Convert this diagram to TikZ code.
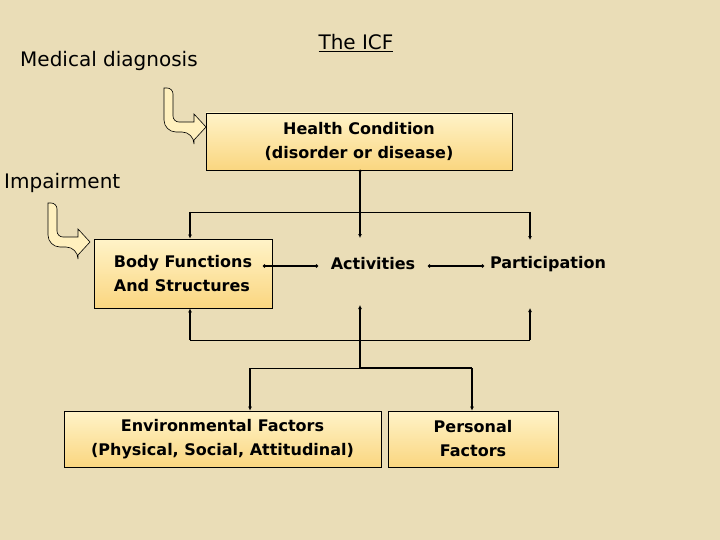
\documentclass[tikz,border=0pt]{standalone}
\usepackage{fontspec}
\setmainfont{DejaVu Sans}
\usetikzlibrary{arrows.meta}
\definecolor{parch}{RGB}{234,221,183}
\definecolor{boxtop}{RGB}{255,243,200}
\definecolor{boxbot}{RGB}{250,214,128}
\definecolor{hollow}{RGB}{255,240,190}
\tikzset{
 box/.style={draw=black,line width=0.8pt,top color=boxtop,bottom color=boxbot,align=center,font=\fontsize{16}{24}\selectfont\bfseries,inner sep=0pt},
 plain/.style={align=center,font=\fontsize{16}{24}\selectfont\bfseries},
 lbl/.style={font=\fontsize{20}{24}\selectfont,inner sep=0pt},
 conn/.style={line width=1.4pt,-{Latex[length=4pt,width=4pt]}},
 line/.style={line width=0.9pt},
 holarrow/.pic={
  \filldraw[fill=hollow,line width=0.6pt] (0,0) [rounded corners=12pt] -- (0,-44) -- (30,-44) [sharp corners] -- (30,-52) -- (42,-39) -- (30,-26) -- (30,-34) [rounded corners=6pt] -- (9,-34) -- (9,0) [sharp corners] -- cycle;
 }
}
\begin{document}
\begin{tikzpicture}[x=1pt,y=-1pt]
\fill[parch] (0,0) rectangle (720,540);
\useasboundingbox (0,0) rectangle (720,540);
\node[lbl,anchor=west] (md) at (20,61) {Medical diagnosis};
\node[lbl] (icf) at (356,43) {\underline{The ICF}};
\node[lbl,anchor=west] (imp) at (4,183) {Impairment};
\node[box,minimum width=306pt,minimum height=57pt] (hc) at (359,141.5) {Health Condition\\(disorder or disease)};
\node[box,minimum width=178pt,minimum height=69pt,align=left] (bf) at (183,273.5) {Body Functions\\And Structures};
\node[plain] (act) at (373,264) {Activities};
\node[plain] (par) at (548,264) {Participation};
\node[box,minimum width=317pt,minimum height=56pt] (env) at (222.5,439) {Environmental Factors\\(Physical, Social, Attitudinal)};
\node[box,minimum width=170pt,minimum height=56pt] (pf) at (473,439) {Personal\\Factors};
% hollow arrows
\begin{scope}[y=1pt]
\pic at (164,-88) {holarrow};
\pic at (48,-203) {holarrow};
\end{scope}
% top bracket
\coordinate (tl) at (190,212); \coordinate (tr) at (530,212);
\draw[line] (tl) -- (tr);
\draw[conn] (tl) -- (bf.north -| tl);
\draw[conn] (tr) -- (530,240);
\draw[conn] (hc.south -| 360,0) -- (360,238);
\fill (360,171) circle (1.5pt);
% horizontal links
\draw[line width=1.4pt,{Circle[length=3pt]}-{Circle[length=3pt]}] (263,266) -- (318,266);
\draw[line width=1.4pt,{Circle[length=3pt]}-{Circle[length=3pt]}] (428,266) -- (484,266);
% bottom bracket
\coordinate (bl) at (190,340); \coordinate (br) at (530,340);
\draw[line] (bl) -- (br);
\draw[conn] (bl) -- (bf.south -| bl);
\draw[conn] (360,340) -- (360,305);
\draw[conn] (br) -- (530,308);
\draw[line width=1.4pt] (360,340) -- (360,368);
\coordinate (el) at (250,368); \coordinate (er) at (472,368);
\draw[line] (el) -- (360,368);
\draw[line width=1.4pt] (360,368) -- (er);
\draw[conn] (el) -- (env.north -| el);
\draw[conn] (er) -- (pf.north -| er);
\end{tikzpicture}
\end{document}
